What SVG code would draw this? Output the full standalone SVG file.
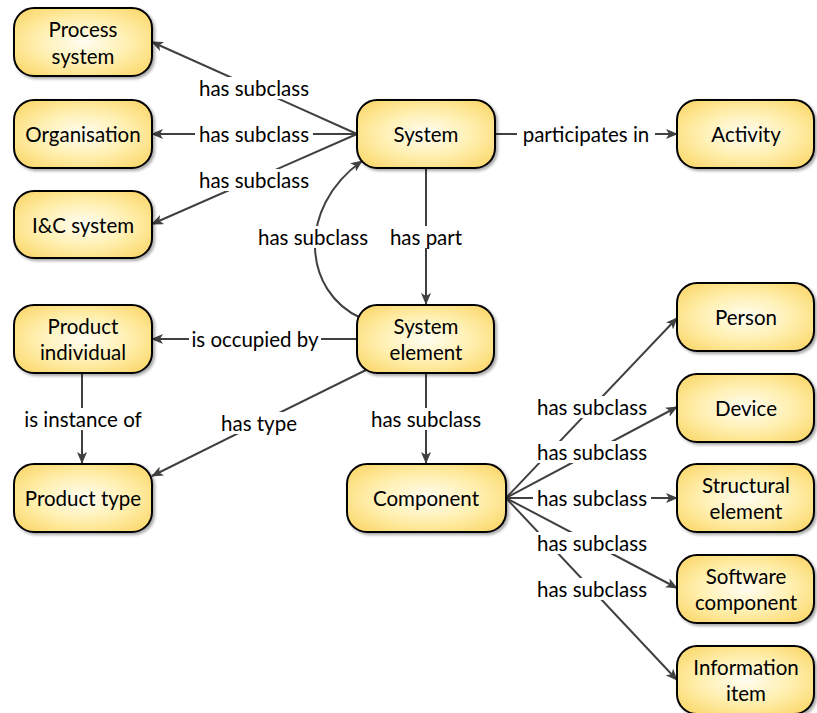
<svg xmlns="http://www.w3.org/2000/svg" width="817" height="713" viewBox="0 0 817 713">
  <defs>
    <radialGradient id="fillY" cx="50%" cy="50%" r="62%">
      <stop offset="0" stop-color="#FFFDF2"/>
      <stop offset="0.55" stop-color="#FFEFAE"/>
      <stop offset="1" stop-color="#FBD970"/>
    </radialGradient>
    <filter id="shadow" x="-10%" y="-10%" width="130%" height="130%">
      <feGaussianBlur in="SourceAlpha" stdDeviation="1.5"/>
      <feOffset dx="2" dy="2" result="b"/>
      <feComponentTransfer><feFuncA type="linear" slope="0.35"/></feComponentTransfer>
      <feMerge><feMergeNode/><feMergeNode in="SourceGraphic"/></feMerge>
    </filter>
    <marker id="arrow" viewBox="0 0 12 10" refX="11" refY="5" markerWidth="12" markerHeight="10" markerUnits="userSpaceOnUse" orient="auto">
      <path d="M0,0 L12,5 L0,10 L3,5 Z" fill="#404040"/>
    </marker>
  </defs>
  <style>
    .node rect { fill: url(#fillY); stroke: #000; stroke-width: 2; filter: url(#shadow); }
    .node text, .lbl text { font-family: "Lato", "Liberation Sans", sans-serif; font-size: 20.5px; fill: #000; text-anchor: middle; dominant-baseline: central; }
    .edge { fill: none; stroke: #404040; stroke-width: 2; marker-end: url(#arrow); }
    .lbl rect { fill: #fff; }
  </style>

  <rect width="817" height="713" fill="#fff"/>

  <!-- connectors -->
  <g id="connectors">
    <path class="edge" d="M357,134 L152,42"/>
    <path class="edge" d="M357,134 L152,134"/>
    <path class="edge" d="M357,134 L152,224"/>
    <path class="edge" d="M495,134 L677,134"/>
    <path class="edge" d="M426,168 L426,304"/>
    <path class="edge" d="M361,318 C303,292 296,208 362,161"/>
    <path class="edge" d="M357,339 L152,339"/>
    <path class="edge" d="M82,373 L82,463"/>
    <path class="edge" d="M366,370 L152,476"/>
    <path class="edge" d="M426,373 L426,463"/>
    <path class="edge" d="M506,498 L677,318"/>
    <path class="edge" d="M506,498 L677,407"/>
    <path class="edge" d="M506,498 L677,498"/>
    <path class="edge" d="M506,498 L677,588"/>
    <path class="edge" d="M506,498 L677,680"/>

    <g class="lbl">
      <rect x="195" y="77" width="118" height="22"/><text x="254" y="88">has subclass</text>
      <rect x="195" y="123" width="118" height="22"/><text x="254" y="134">has subclass</text>
      <rect x="195" y="169" width="118" height="22"/><text x="254" y="180">has subclass</text>
      <rect x="517" y="123" width="138" height="22"/><text x="586" y="134">participates in</text>
      <rect x="384" y="226" width="84" height="22"/><text x="426" y="237">has part</text>
      <rect x="254" y="226" width="118" height="22"/><text x="313" y="237">has subclass</text>
      <rect x="189" y="328" width="132" height="22"/><text x="255" y="339">is occupied by</text>
      <rect x="20" y="408" width="126" height="22"/><text x="83" y="419">is instance of</text>
      <rect x="216" y="412" width="86" height="22"/><text x="259" y="423">has type</text>
      <rect x="367" y="408" width="118" height="22"/><text x="426" y="419">has subclass</text>
      <rect x="533" y="396" width="118" height="22"/><text x="592" y="407">has subclass</text>
      <rect x="533" y="441" width="118" height="22"/><text x="592" y="452">has subclass</text>
      <rect x="533" y="487" width="118" height="22"/><text x="592" y="498">has subclass</text>
      <rect x="533" y="532" width="118" height="22"/><text x="592" y="543">has subclass</text>
      <rect x="533" y="578" width="118" height="22"/><text x="592" y="589">has subclass</text>
    </g>
  </g>

  <!-- nodes -->
  <g id="process-system" class="node">
    <rect x="14" y="8" width="138" height="68" rx="20"/>
    <text x="83" y="29">Process</text><text x="83" y="56">system</text>
  </g>
  <g id="organisation" class="node">
    <rect x="14" y="100" width="138" height="68" rx="20"/>
    <text x="83" y="134">Organisation</text>
  </g>
  <g id="ic-system" class="node">
    <rect x="14" y="191" width="138" height="67" rx="20"/>
    <text x="83" y="225">I&amp;C system</text>
  </g>
  <g id="system" class="node">
    <rect x="357" y="100" width="138" height="68" rx="20"/>
    <text x="426" y="134">System</text>
  </g>
  <g id="activity" class="node">
    <rect x="677" y="100" width="137" height="68" rx="20"/>
    <text x="746" y="134">Activity</text>
  </g>
  <g id="product-individual" class="node">
    <rect x="14" y="305" width="138" height="68" rx="20"/>
    <text x="83" y="326">Product</text><text x="83" y="352">individual</text>
  </g>
  <g id="system-element" class="node">
    <rect x="357" y="305" width="137" height="68" rx="20"/>
    <text x="426" y="326">System</text><text x="426" y="352">element</text>
  </g>
  <g id="product-type" class="node">
    <rect x="14" y="464" width="138" height="68" rx="20"/>
    <text x="83" y="498">Product type</text>
  </g>
  <g id="component" class="node">
    <rect x="347" y="464" width="159" height="68" rx="20"/>
    <text x="426" y="498">Component</text>
  </g>
  <g id="person" class="node">
    <rect x="677" y="283" width="137" height="68" rx="20"/>
    <text x="746" y="317">Person</text>
  </g>
  <g id="device" class="node">
    <rect x="677" y="374" width="137" height="68" rx="20"/>
    <text x="746" y="408">Device</text>
  </g>
  <g id="structural-element" class="node">
    <rect x="677" y="464" width="137" height="68" rx="20"/>
    <text x="746" y="485">Structural</text><text x="746" y="511">element</text>
  </g>
  <g id="software-component" class="node">
    <rect x="677" y="555" width="137" height="68" rx="20"/>
    <text x="746" y="576">Software</text><text x="746" y="602">component</text>
  </g>
  <g id="information-item" class="node">
    <rect x="677" y="646" width="137" height="68" rx="20"/>
    <text x="746" y="667">Information</text><text x="746" y="693">item</text>
  </g>
</svg>
